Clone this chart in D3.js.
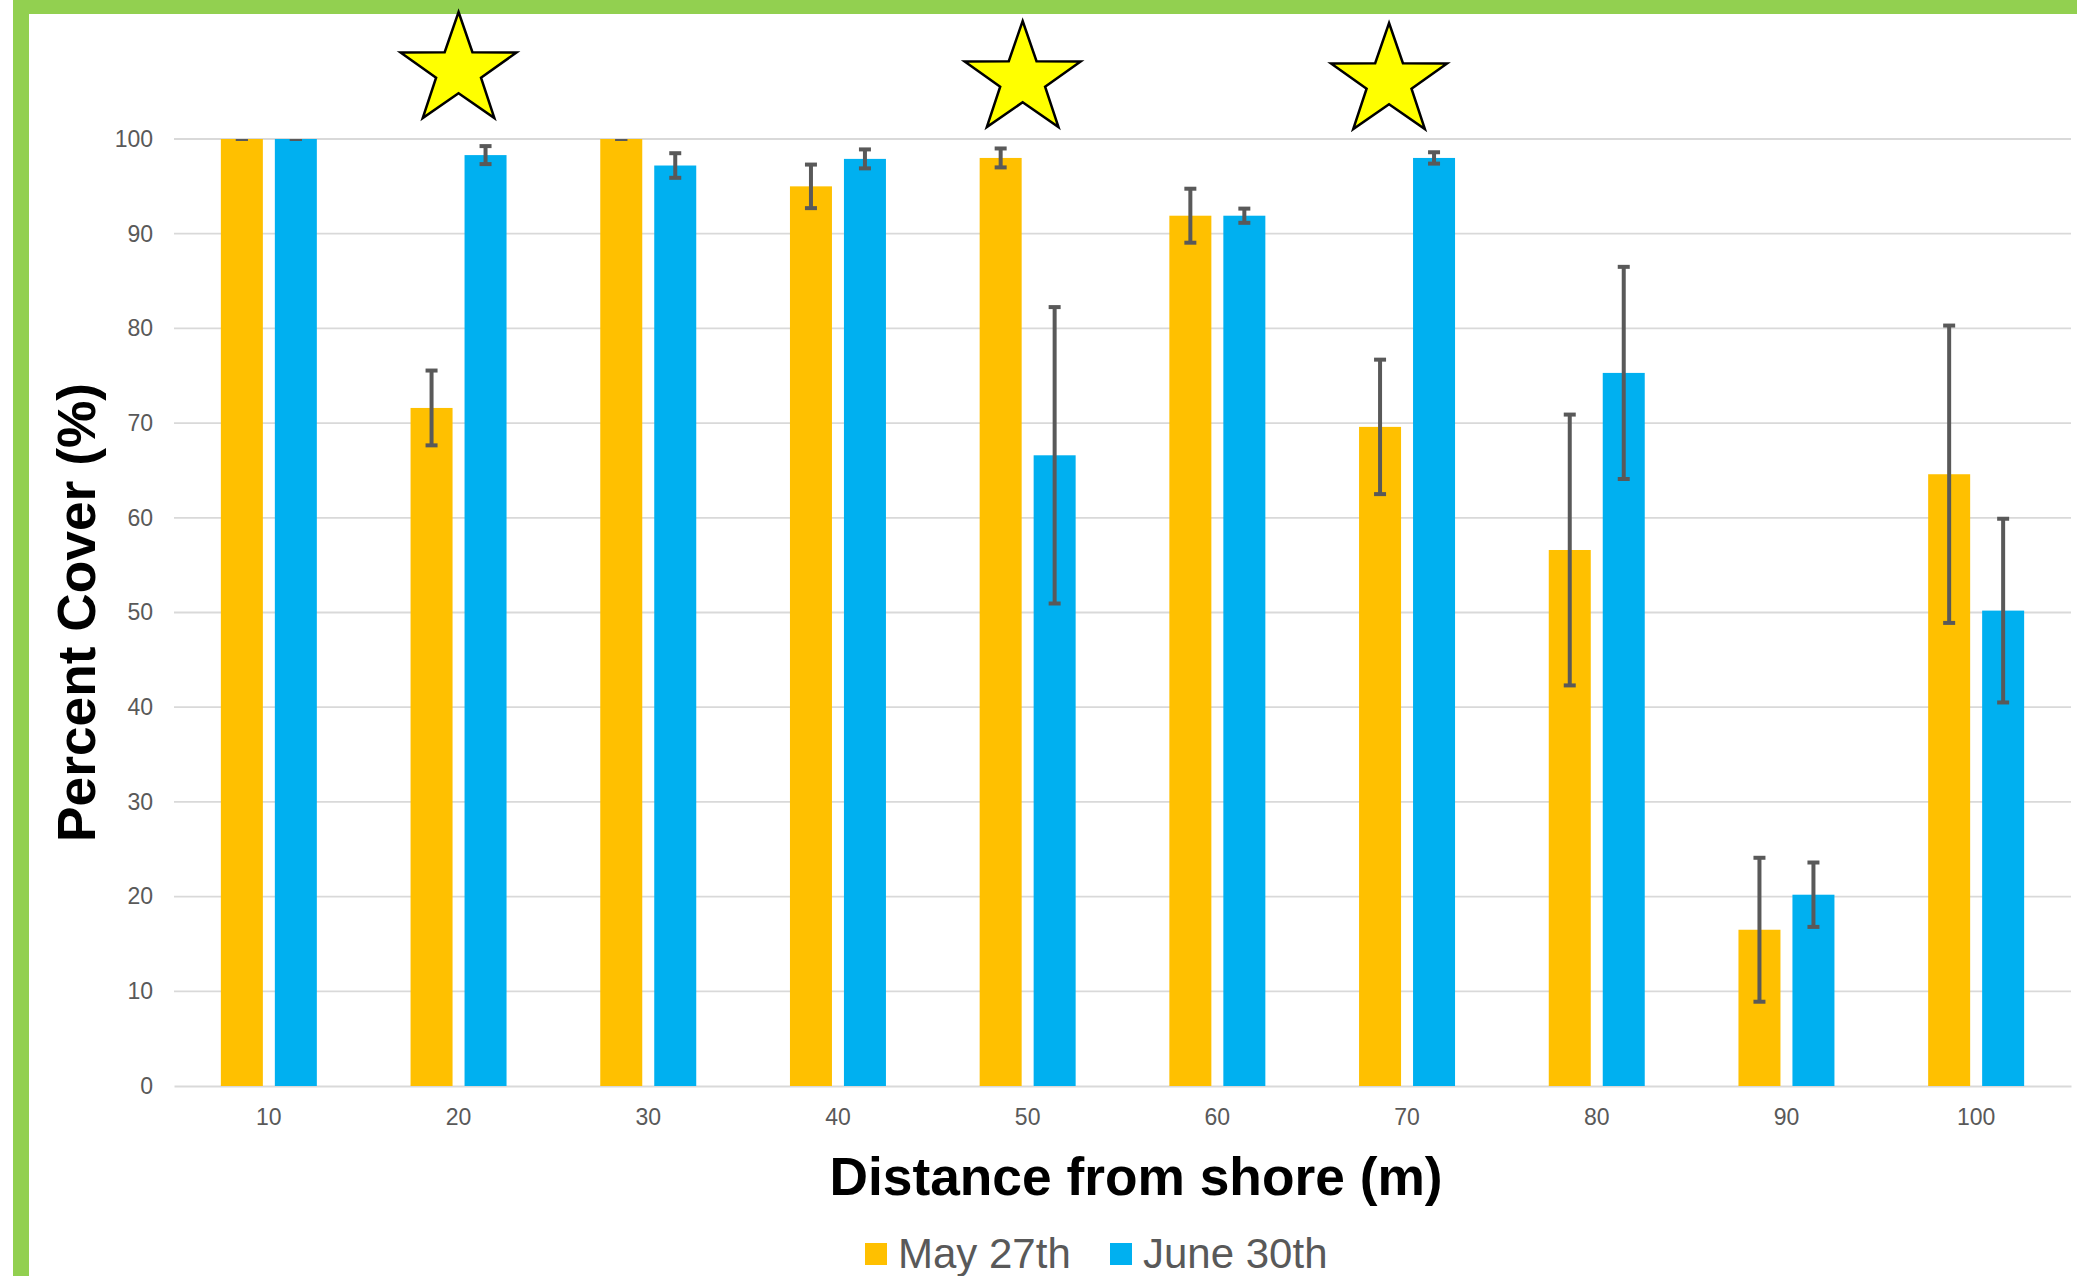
<!DOCTYPE html>
<html><head><meta charset="utf-8">
<script src="https://cdn.jsdelivr.net/npm/d3@7"></script>
<style>body{margin:0;background:#fff;overflow:hidden}</style>
</head><body><div id="chart"></div>
<script>
// ---------- data ----------
const categories = [10, 20, 30, 40, 50, 60, 70, 80, 90, 100];
const seriesNames = ["May 27th", "June 30th"];
const mayValues  = [100, 71.6, 100, 95.0, 98.0, 91.9, 69.6, 56.6, 16.5, 64.6];
const mayErrors  = [0, 3.95, 0, 2.3, 1.0, 2.85, 7.1, 14.3, 7.6, 15.7];
const juneValues = [100, 98.3, 97.2, 97.9, 66.6, 91.9, 98.0, 75.3, 20.2, 50.2];
const juneErrors = [0, 0.95, 1.3, 1.0, 15.65, 0.75, 0.6, 11.2, 3.4, 9.7];
const yTicks = [0, 10, 20, 30, 40, 50, 60, 70, 80, 90, 100];
const starCategories = [20, 50, 70];

// ---------- layout / style ----------
const W = 2077, H = 1276;
const plot = {left: 174, right: 2071, top: 139, bottom: 1086};
const colors = {"May 27th": "#FFC000", "June 30th": "#00B0F0"};
const FONT = "'Liberation Sans', Arial, Helvetica, sans-serif";
const starNudge = [0, -5, -18];
const starCy = [70.6, 79.6, 81.6];

const svg = d3.select("#chart").append("svg")
  .attr("width", W).attr("height", H)
  .style("font-family", FONT);

svg.append("rect").attr("width", W).attr("height", H).attr("fill", "#fff");

const x = d3.scaleBand().domain(categories).range([plot.left, plot.right])
  .paddingInner(0.494).paddingOuter(0.247);
const xs = d3.scaleBand().domain(seriesNames).range([0, x.bandwidth()])
  .paddingInner(0.222).paddingOuter(0);
const y = d3.scaleLinear().domain([0, 100]).range([plot.bottom, plot.top]);

// gridlines
svg.append("g").selectAll("line").data(yTicks.filter(d => d > 0)).join("line")
  .attr("x1", plot.left).attr("x2", plot.right)
  .attr("y1", d => y(d)).attr("y2", d => y(d))
  .attr("stroke", "#D9D9D9").attr("stroke-width", 1.8);

// y axis (labels only)
const yAxis = svg.append("g").attr("transform", `translate(${plot.left},0)`)
  .call(d3.axisLeft(y).tickValues(yTicks).tickSize(0).tickPadding(21));
yAxis.select(".domain").remove();
yAxis.selectAll("text").attr("font-size", 23).attr("fill", "#595959").attr("font-family", FONT);

// x axis
const xAxis = svg.append("g").attr("transform", `translate(0,${plot.bottom})`)
  .call(d3.axisBottom(x).tickSize(0).tickSizeOuter(0).tickPadding(23));
xAxis.select(".domain").attr("stroke", "#D9D9D9").attr("stroke-width", 2);
xAxis.selectAll("text").attr("font-size", 23).attr("fill", "#595959").attr("font-family", FONT);

// data rows
const rows = categories.map((c, i) => ({
  cat: c,
  vals: [
    {name: seriesNames[0], v: mayValues[i], e: mayErrors[i]},
    {name: seriesNames[1], v: juneValues[i], e: juneErrors[i]}
  ]
}));

// bars
const groups = svg.append("g").selectAll("g").data(rows).join("g")
  .attr("transform", d => `translate(${x(d.cat)},0)`);
groups.selectAll("rect").data(d => d.vals).join("rect")
  .attr("x", d => xs(d.name)).attr("width", xs.bandwidth())
  .attr("y", d => y(d.v)).attr("height", d => y(0) - y(d.v))
  .attr("fill", d => colors[d.name]);

// error bars (clipped to plot area)
svg.append("clipPath").attr("id", "plotclip").append("rect")
  .attr("x", plot.left).attr("y", plot.top)
  .attr("width", plot.right - plot.left).attr("height", plot.bottom - plot.top);
const eg = svg.append("g").attr("clip-path", "url(#plotclip)");
const capW = 12;
rows.forEach(r => {
  r.vals.forEach(d => {
    const cx = x(r.cat) + xs(d.name) + xs.bandwidth() / 2;
    const g = eg.append("g").attr("stroke", "#595959").attr("stroke-width", 4);
    g.append("line").attr("x1", cx).attr("x2", cx)
      .attr("y1", y(d.v + d.e)).attr("y2", y(d.v - d.e));
    [d.v + d.e, d.v - d.e].forEach(v => {
      g.append("line").attr("x1", cx - capW / 2).attr("x2", cx + capW / 2)
        .attr("y1", y(v)).attr("y2", y(v));
    });
  });
});

// green frame
svg.append("rect").attr("x", 13).attr("y", 0).attr("width", W - 13).attr("height", 14).attr("fill", "#92D050");
svg.append("rect").attr("x", 13).attr("y", 0).attr("width", 16).attr("height", H).attr("fill", "#92D050");

// stars
function starPath(cx, cy, R, r, sx) {
  const pts = [];
  for (let k = 0; k < 10; k++) {
    const rad = k % 2 === 0 ? R : r;
    const a = -Math.PI / 2 + k * Math.PI / 5;
    pts.push([cx + rad * Math.cos(a) * sx, cy + rad * Math.sin(a)]);
  }
  return "M" + pts.map(p => p.join(",")).join("L") + "Z";
}
svg.append("g").selectAll("path").data(starCategories).join("path")
  .attr("d", (c, i) => starPath(x(c) + x.bandwidth() / 2 + starNudge[i], starCy[i], 58.6, 22.7, 1.04))
  .attr("fill", "#FFFF00").attr("stroke", "#000").attr("stroke-width", 2.5)
  .attr("stroke-linejoin", "miter");

// axis titles
svg.append("text").attr("transform", `translate(95,${(plot.top + plot.bottom) / 2}) rotate(-90)`)
  .attr("text-anchor", "middle").attr("font-size", 53.3).attr("font-weight", "bold")
  .attr("fill", "#000").text("Percent Cover (%)");
svg.append("text").attr("x", 1136).attr("y", 1195)
  .attr("text-anchor", "middle").attr("font-size", 53.3).attr("font-weight", "bold")
  .attr("fill", "#000").text("Distance from shore (m)");

// legend
const legendX = [865, 1110];
const lg = svg.append("g").selectAll("g").data(seriesNames).join("g")
  .attr("transform", (d, i) => `translate(${legendX[i]},0)`);
lg.append("rect").attr("x", 0).attr("y", 1243).attr("width", 22).attr("height", 22)
  .attr("fill", d => colors[d]);
lg.append("text").attr("x", 33).attr("y", 1268).attr("font-size", 42)
  .attr("fill", "#595959").text(d => d);
</script>
</body></html>
